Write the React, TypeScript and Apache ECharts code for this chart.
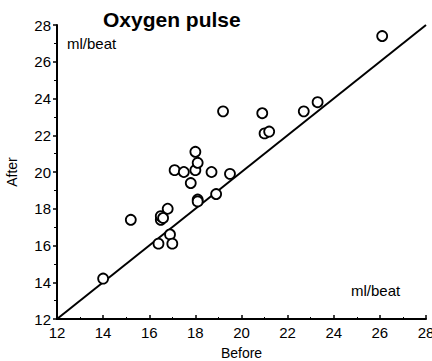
import React, { useEffect, useRef } from "react";
import * as echarts from "echarts";

const beforeValues = [14.0, 15.2, 16.4, 16.5, 16.5, 16.6, 16.8, 16.9, 17.0, 17.1, 17.5, 17.8, 18.0, 18.0, 18.1, 18.1, 18.1, 18.7, 18.9, 19.2, 19.5, 20.9, 21.0, 21.2, 22.7, 23.3, 26.1];
const afterValues = [14.2, 17.4, 16.1, 17.4, 17.6, 17.5, 18.0, 16.6, 16.1, 20.1, 20.0, 19.4, 21.1, 20.1, 20.5, 18.5, 18.4, 20.0, 18.8, 23.3, 19.9, 23.2, 22.1, 22.2, 23.3, 23.8, 27.4];
const identityLine = [[12, 12], [28, 28]];
const axisMin = 12;
const axisMax = 28;
const axisStep = 2;
const titleText = "Oxygen pulse";
const xName = "Before";
const yName = "After";
const unitText = "ml/beat";

const FONT = "'Liberation Sans', Arial, Helvetica, sans-serif";

export default function App() {
  const ref = useRef<HTMLDivElement>(null);
  useEffect(() => {
    if (!ref.current) return;
    document.body.style.margin = "0";
    const chart = echarts.init(ref.current, null, { renderer: "svg" });
    const axisCommon = {
      type: "value",
      min: axisMin,
      max: axisMax,
      interval: axisStep,
      splitLine: { show: false },
      axisLine: { show: true, onZero: false, lineStyle: { color: "#000", width: 2 } },
      axisLabel: { color: "#000", fontSize: 15, fontFamily: FONT, hideOverlap: false },
      minorTick: { show: true, splitNumber: 2, length: 3, lineStyle: { color: "#000", width: 1 } },
      nameTextStyle: { color: "#000", fontSize: 14, fontFamily: FONT },
    };
    chart.setOption({
      animation: false,
      title: {
        text: titleText,
        left: 98,
        top: 4,
        textStyle: { fontSize: 21, fontWeight: "bold", color: "#000", fontFamily: FONT },
      },
      grid: { left: 57, right: 6, top: 25, bottom: 42, containLabel: false, outerBoundsMode: "none" },
      xAxis: {
        ...axisCommon,
        name: xName,
        nameLocation: "middle",
        nameGap: 27,
        axisTick: { show: true, inside: true, length: 4, lineStyle: { color: "#000", width: 1.5 } },
        minorTick: { show: true, splitNumber: 2, length: 2, lineStyle: { color: "#000", width: 1 } },
        axisLabel: { ...axisCommon.axisLabel, margin: 6 },
      },
      yAxis: {
        ...axisCommon,
        name: yName,
        nameLocation: "middle",
        nameGap: 38,
        axisTick: { show: true, inside: false, length: 4, lineStyle: { color: "#000", width: 1.5 } },
        axisLabel: { ...axisCommon.axisLabel, margin: 6 },
      },
      graphic: [
        { type: "text", left: 67, top: 36, style: { text: unitText, fontSize: 15, fontFamily: FONT, fill: "#000" } },
        { type: "text", left: 351, top: 283, style: { text: unitText, fontSize: 15, fontFamily: FONT, fill: "#000" } },
      ],
      series: [
        {
          type: "line",
          data: identityLine,
          symbol: "none",
          lineStyle: { color: "#000", width: 2 },
          z: 2,
        },
        {
          type: "scatter",
          data: beforeValues.map((b, i) => [b, afterValues[i]]),
          symbol: "circle",
          symbolSize: 10,
          itemStyle: { color: "#fff", borderColor: "#000", borderWidth: 1.8, opacity: 1 },
          z: 3,
        },
      ],
    });
    return () => chart.dispose();
  }, []);
  return <div ref={ref} style={{ width: 432, height: 361 }} />;
}
